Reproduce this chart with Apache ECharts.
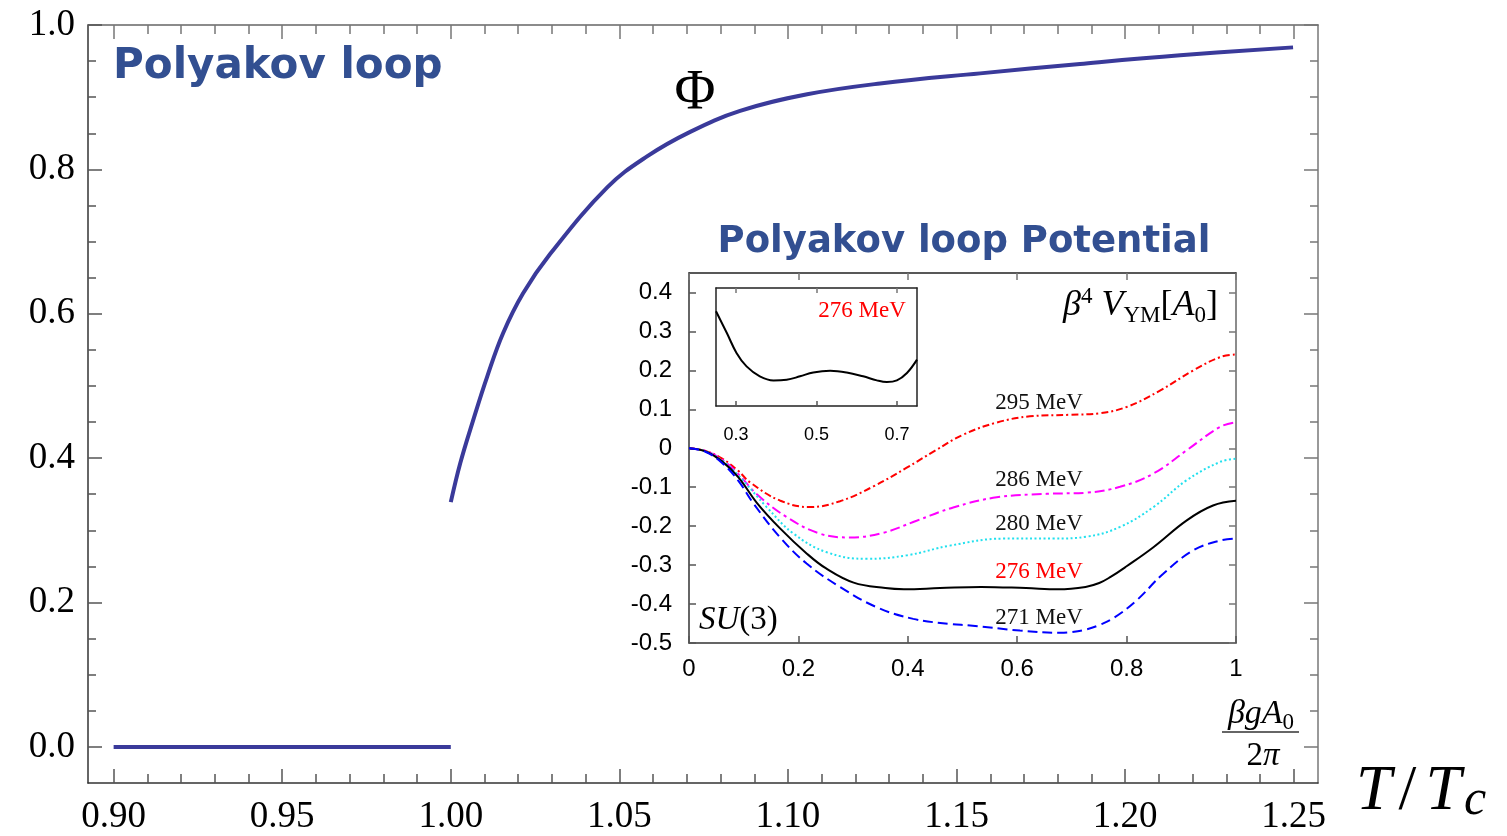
<!DOCTYPE html>
<html><head><meta charset="utf-8">
<script src="https://cdn.jsdelivr.net/npm/echarts@6/dist/echarts.min.js"></script>
<style>html,body{margin:0;padding:0;background:#fff}#c{width:1507px;height:836px}</style>
</head><body><div id="c"></div>
<script>
// ---------------- data ----------------
// main plot: Polyakov loop Phi vs T/Tc
const confinedPhi = [[0.90, 0.0], [1.00, 0.0]];
const deconfinedPhi = [
  [1.000, 0.339], [1.0028, 0.393], [1.0066, 0.452], [1.0108, 0.513], [1.0155, 0.573],
  [1.0214, 0.628], [1.0295, 0.683], [1.0464, 0.775], [1.0582, 0.818], [1.0710, 0.852],
  [1.0858, 0.881], [1.1057, 0.904], [1.1273, 0.919], [1.1570, 0.933], [1.1866, 0.946],
  [1.2163, 0.958], [1.2498, 0.969]
];
const mainMajorX = [0.90, 0.95, 1.00, 1.05, 1.10, 1.15, 1.20, 1.25];
const mainMinorX = [0.91,0.92,0.93,0.94,0.96,0.97,0.98,0.99,1.01,1.02,1.03,1.04,1.06,1.07,1.08,1.09,
                    1.11,1.12,1.13,1.14,1.16,1.17,1.18,1.19,1.21,1.22,1.23,1.24];
const mainMajorY = [0.0, 0.2, 0.4, 0.6, 0.8, 1.0];
const mainMinorY = [0.05,0.1,0.15,0.25,0.3,0.35,0.45,0.5,0.55,0.65,0.7,0.75,0.85,0.9,0.95];

// inset: beta^4 V_YM[A0] vs beta g A0 / 2pi
const v295 = [[0,0],[0.03,-0.0066],[0.06,-0.026],[0.09,-0.058],[0.112,-0.088],[0.166,-0.134],[0.221,-0.151],
  [0.276,-0.136],[0.337,-0.098],[0.398,-0.050],[0.45,-0.006],[0.5,0.034],[0.5625,0.066],[0.623,0.082],
  [0.697,0.086],[0.751,0.090],[0.80,0.106],[0.861,0.148],[0.922,0.200],[0.971,0.234],[1.0,0.241]];
const v286 = [[0,0],[0.03,-0.007],[0.06,-0.029],[0.09,-0.066],[0.124,-0.118],[0.179,-0.177],[0.239,-0.219],
  [0.294,-0.229],[0.355,-0.217],[0.416,-0.186],[0.483,-0.152],[0.5625,-0.126],[0.654,-0.117],[0.727,-0.114],
  [0.788,-0.099],[0.849,-0.065],[0.91,-0.005],[0.971,0.055],[1.0,0.067]];
const v280 = [[0,0],[0.03,-0.0077],[0.06,-0.031],[0.09,-0.069],[0.142,-0.151],[0.191,-0.219],[0.252,-0.267],
  [0.325,-0.284],[0.398,-0.275],[0.477,-0.250],[0.575,-0.232],[0.666,-0.232],[0.727,-0.227],[0.788,-0.202],
  [0.849,-0.151],[0.91,-0.082],[0.971,-0.035],[1.0,-0.027]];
const v276 = [[0,0],[0.03,-0.008],[0.06,-0.033],[0.09,-0.074],[0.124,-0.140],[0.166,-0.205],[0.215,-0.270],
  [0.25,-0.308],[0.301,-0.345],[0.359,-0.359],[0.393,-0.362],[0.459,-0.359],[0.534,-0.356],[0.616,-0.359],
  [0.675,-0.362],[0.725,-0.356],[0.75,-0.346],[0.77,-0.331],[0.8,-0.303],[0.849,-0.254],[0.91,-0.185],
  [0.958,-0.147],[1.0,-0.135]];
const v271 = [[0,0],[0.03,-0.009],[0.06,-0.037],[0.09,-0.083],[0.118,-0.142],[0.166,-0.228],[0.215,-0.296],
  [0.276,-0.356],[0.343,-0.408],[0.41,-0.438],[0.477,-0.451],[0.514,-0.455],[0.605,-0.468],[0.678,-0.474],
  [0.70,-0.472],[0.727,-0.465],[0.75,-0.454],[0.776,-0.436],[0.818,-0.391],[0.867,-0.322],[0.922,-0.262],
  [0.971,-0.237],[1.0,-0.232]];
const insetXTicks = [0, 0.2, 0.4, 0.6, 0.8, 1];
const insetYTicks = [-0.5,-0.4,-0.3,-0.2,-0.1,0,0.1,0.2,0.3,0.4];

// zoomed view of 276 MeV curve
const zoom276 = [[0.25,-0.3208],[0.277,-0.3337],[0.301,-0.3455],[0.326,-0.3535],[0.359,-0.3594],
  [0.393,-0.3618],[0.426,-0.3614],[0.459,-0.3594],[0.492,-0.3571],[0.534,-0.3561],[0.575,-0.3571],
  [0.616,-0.3594],[0.65,-0.3618],[0.675,-0.3628],[0.70,-0.3618],[0.725,-0.3574],[0.75,-0.3495]];
const zoomXTicks = [0.3, 0.5, 0.7];

// ---------------- chart ----------------
const PHI = '#3a3a9a', TITLE = '#324f91';
const SERIF = '"Liberation Serif", "DejaVu Serif", serif';
const SANS = '"Liberation Sans", Arial, sans-serif';

function axis(gridIndex, position, min, max, o) {
  return {
    type: 'value', gridIndex: gridIndex, position: position, min: min, max: max,
    axisLine: { show: !!o.line, onZero: false, lineStyle: { color: o.lineColor || '#333', width: o.lineWidth || 1.5 } },
    axisTick: o.ticks ? { show: true, inside: true, length: o.tickLen, customValues: o.ticks,
      lineStyle: { color: o.tickColor || '#555', width: 1.5 } } : { show: false },
    axisLabel: o.labels ? { show: true, customValues: o.labels, formatter: o.fmt, margin: o.margin,
      fontFamily: o.font, fontSize: o.size, color: '#000' } : { show: false },
    splitLine: { show: false }
  };
}
const f2 = v => v.toFixed(2);
const f1 = v => v.toFixed(1);
const fi = v => (Math.abs(v) < 1e-9 ? '0' : (Math.abs(v - 1) < 1e-9 ? '1' : v.toFixed(1)));

const MX = [0.8924, 1.2572], MY = [-0.05, 1.0];
const IY = [-0.5, 0.45];
const ZX = [0.25, 0.75], ZY = [-0.377, -0.307];

const xAxes = [
  axis(0, 'bottom', MX[0], MX[1], { line: true, ticks: mainMajorX, tickLen: 14, labels: mainMajorX, fmt: f2, margin: 16, font: SERIF, size: 37 }),
  axis(0, 'bottom', MX[0], MX[1], { ticks: mainMinorX, tickLen: 9 }),
  axis(0, 'top', MX[0], MX[1], { line: true, lineColor: '#666', ticks: mainMajorX, tickLen: 14, tickColor: '#777' }),
  axis(0, 'top', MX[0], MX[1], { ticks: mainMinorX, tickLen: 9, tickColor: '#777' }),
  axis(1, 'bottom', 0, 1, { line: true, ticks: insetXTicks, tickLen: 7, labels: insetXTicks, fmt: fi, margin: 14, font: SANS, size: 24 }),
  axis(1, 'top', 0, 1, { line: true, lineColor: '#222', ticks: insetXTicks, tickLen: 7, tickColor: '#777' }),
  axis(2, 'bottom', ZX[0], ZX[1], { line: true, lineColor: '#222', ticks: zoomXTicks, tickLen: 5, labels: zoomXTicks, fmt: f1, margin: 20, font: SANS, size: 18 }),
  axis(2, 'top', ZX[0], ZX[1], { line: true, lineColor: '#222', ticks: zoomXTicks, tickLen: 5, tickColor: '#777' })
];
const yAxes = [
  axis(0, 'left', MY[0], MY[1], { line: true, ticks: mainMajorY, tickLen: 14, labels: mainMajorY, fmt: f1, margin: 13, font: SERIF, size: 37 }),
  axis(0, 'left', MY[0], MY[1], { ticks: mainMinorY, tickLen: 8 }),
  axis(0, 'right', MY[0], MY[1], { line: true, lineColor: '#777', ticks: mainMajorY, tickLen: 14, tickColor: '#777' }),
  axis(0, 'right', MY[0], MY[1], { ticks: mainMinorY, tickLen: 8, tickColor: '#777' }),
  axis(1, 'left', IY[0], IY[1], { line: true, ticks: insetYTicks, tickLen: 7, labels: insetYTicks, fmt: fi, margin: 17, font: SANS, size: 24 }),
  axis(1, 'right', IY[0], IY[1], { line: true, lineColor: '#666', ticks: insetYTicks, tickLen: 7, tickColor: '#777' }),
  axis(2, 'left', ZY[0], ZY[1], { line: true, lineColor: '#222' }),
  axis(2, 'right', ZY[0], ZY[1], { line: true, lineColor: '#222' })
];

function curve(data, xi, yi, color, width, type) {
  return { type: 'line', xAxisIndex: xi, yAxisIndex: yi, data: data, symbol: 'none',
    smooth: 0.4,
    lineStyle: { color: color, width: width, type: type }, z: 3 };
}

const chart = echarts.init(document.getElementById('c'), null, { renderer: 'canvas' });
const txt = (x, y, text, font, fill, align) => ({ type: 'text', x: x, y: y, z: 10,
  style: { text: text, font: font, fill: fill || '#000', align: align || 'center', verticalAlign: 'middle',
    textAlign: align || 'center', textVerticalAlign: 'middle' } });

chart.setOption({
  animation: false,
  backgroundColor: '#fff',
  grid: [
    { left: 88, top: 25, width: 1230, height: 758 },
    { left: 689, top: 273, width: 547, height: 370 },
    { left: 716, top: 288, width: 201, height: 118 }
  ],
  xAxis: xAxes,
  yAxis: yAxes,
  series: [
    curve(confinedPhi, 0, 0, PHI, 4, 'solid'),
    curve(deconfinedPhi, 0, 0, PHI, 4, 'solid'),
    curve(v295, 4, 4, '#ff0000', 2, [7, 3, 2, 3]),
    curve(v286, 4, 4, '#ff00ff', 2, [10, 4, 3, 4]),
    curve(v280, 4, 4, '#22e0ee', 2, [2, 2.5]),
    curve(v276, 4, 4, '#000000', 2, 'solid'),
    curve(v271, 4, 4, '#0000ff', 2, [10, 5]),
    curve(zoom276, 6, 6, '#000000', 2, 'solid')
  ],
  graphic: [
    txt(113, 67, 'Polyakov loop', 'bold 42px "DejaVu Sans"', TITLE, 'left'),
    txt(964, 242, 'Polyakov loop Potential', 'bold 37px "DejaVu Sans"', TITLE, 'center'),
    txt(695, 94, 'Φ', '56px ' + SERIF, '#000', 'center'),
    txt(1039, 403, '295 MeV', '23px ' + SERIF, '#111', 'center'),
    txt(1039, 480, '286 MeV', '23px ' + SERIF, '#111', 'center'),
    txt(1039, 524, '280 MeV', '23px ' + SERIF, '#111', 'center'),
    txt(1039, 572, '276 MeV', '23px ' + SERIF, '#ff0000', 'center'),
    txt(1039, 618, '271 MeV', '23px ' + SERIF, '#111', 'center'),
    txt(862, 311, '276 MeV', '23px ' + SERIF, '#ff0000', 'center'),
    { type: 'text', x: 699, y: 620, z: 10, style: {
      text: '{i|SU}{n|(3)}', align: 'left', verticalAlign: 'middle', textAlign: 'left', textVerticalAlign: 'middle',
      rich: { i: { fontFamily: SERIF, fontStyle: 'italic', fontSize: 33, color: '#ff0000' },
              n: { fontFamily: SERIF, fontSize: 33, color: '#ff0000' } } } },
    { type: 'text', x: 1218, y: 306, z: 10, style: {
      text: '{i|β}{sup|4}{n| }{i|V}{sub|YM}{n|[}{i|A}{sub|0}{n|]}', align: 'right', verticalAlign: 'middle',
      textAlign: 'right', textVerticalAlign: 'middle',
      rich: { i: { fontFamily: SERIF, fontStyle: 'italic', fontSize: 36, lineHeight: 42, color: '#222' },
              n: { fontFamily: SERIF, fontSize: 36, lineHeight: 42, color: '#222' },
              sup: { fontFamily: SERIF, fontSize: 23, lineHeight: 22, verticalAlign: 'top', color: '#222' },
              sub: { fontFamily: SERIF, fontSize: 23, lineHeight: 22, verticalAlign: 'bottom', color: '#222' } } } },
    { type: 'text', x: 1261, y: 714, z: 10, style: {
      text: '{i|βgA}{sub|0}', align: 'center', verticalAlign: 'middle', textAlign: 'center', textVerticalAlign: 'middle',
      rich: { i: { fontFamily: SERIF, fontStyle: 'italic', fontSize: 34, lineHeight: 40, color: '#222' },
              sub: { fontFamily: SERIF, fontSize: 23, lineHeight: 22, verticalAlign: 'bottom', color: '#222' } } } },
    { type: 'line', z: 10, shape: { x1: 1222, y1: 732, x2: 1299, y2: 732 }, style: { stroke: '#333', lineWidth: 1.5 } },
    { type: 'text', x: 1263, y: 756, z: 10, style: {
      text: '{n|2}{i|π}', align: 'center', verticalAlign: 'middle', textAlign: 'center', textVerticalAlign: 'middle',
      rich: { n: { fontFamily: SERIF, fontSize: 33, color: '#222' },
              i: { fontFamily: SERIF, fontStyle: 'italic', fontSize: 33, color: '#222' } } } },
    { type: 'text', x: 1356, y: 792, z: 10, style: {
      text: '{a|T}{n|/}{b|T}{s|c}', align: 'left', verticalAlign: 'middle', textAlign: 'left', textVerticalAlign: 'middle',
      rich: { a: { fontFamily: SERIF, fontStyle: 'italic', fontSize: 64, lineHeight: 68, color: '#000', padding: [0, 3, 0, 0] },
              n: { fontFamily: SERIF, fontSize: 64, lineHeight: 68, color: '#000', padding: [0, 9, 0, 4] },
              b: { fontFamily: SERIF, fontStyle: 'italic', fontSize: 64, lineHeight: 68, color: '#000', padding: [0, 3, 0, 0] },
              s: { fontFamily: SERIF, fontStyle: 'italic', fontSize: 50, lineHeight: 46, verticalAlign: 'bottom', color: '#000' } } } }
  ]
});
</script>
</body></html>
